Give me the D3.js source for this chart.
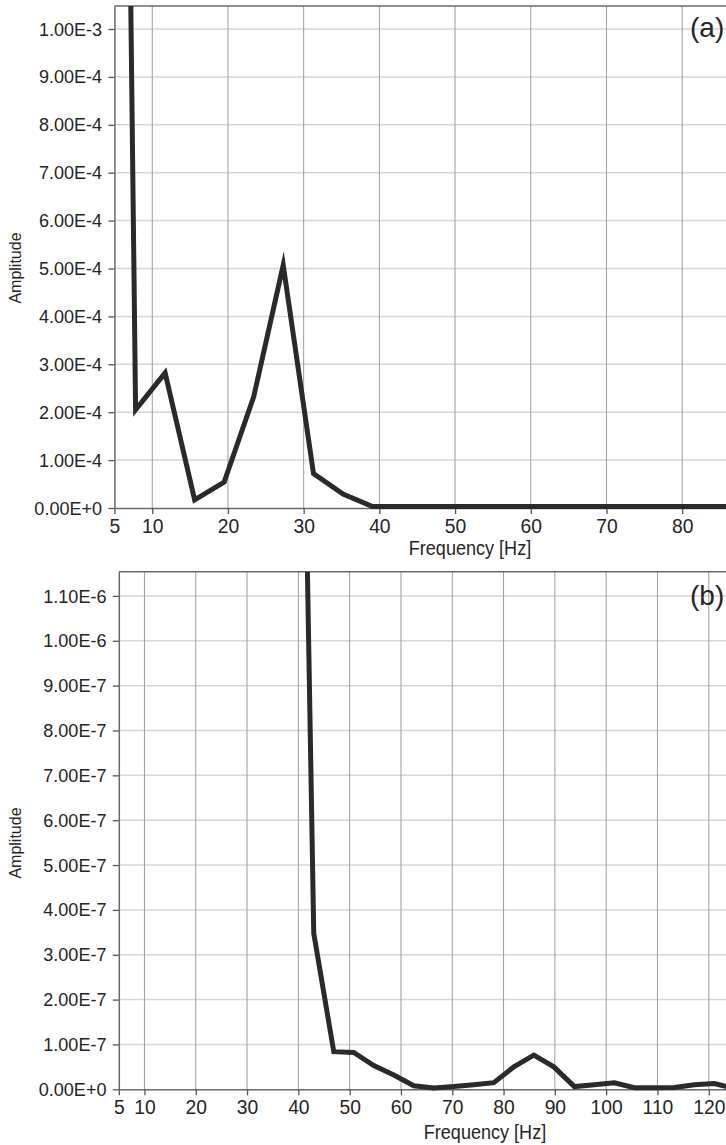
<!DOCTYPE html>
<html>
<head>
<meta charset="utf-8">
<script src="https://cdn.jsdelivr.net/npm/d3@7"></script>
<style>
body{margin:0;background:#fff}
svg{display:block}
text{font-family:"Liberation Sans",Arial,sans-serif;fill:#252525}
</style>
</head>
<body>
<svg id="chart" width="726" height="1145"></svg>
<script>

// (a) low band spectrum
var freq_a = [3.9, 7.8, 11.7, 15.6, 19.5, 23.4, 27.3, 31.3, 35.2, 39.1, 43.0, 46.9, 50.8, 54.7, 58.6, 62.5, 66.4, 70.3, 74.2, 78.1, 82.0, 85.9, 89.8, 93.8, 97.7, 101.6]
var amp_a  = [5.4e-3, 2.05e-4, 2.82e-4, 1.7e-5, 5.4e-5, 2.32e-4, 5.07e-4, 7.2e-5, 2.9e-5, 3e-6, 3e-6, 3e-6, 3e-6, 3e-6, 3e-6, 3e-6, 3e-6, 3e-6, 3e-6, 3e-6, 3e-6, 3e-6, 3e-6, 3e-6, 3e-6, 3e-6]
var yticks_a = [0, 1e-4, 2e-4, 3e-4, 4e-4, 5e-4, 6e-4, 7e-4, 8e-4, 9e-4, 1e-3]
var xticks_a = [5, 10, 20, 30, 40, 50, 60, 70, 80]

// (b) high band spectrum
var freq_b = [39.1, 43.0, 46.9, 50.8, 54.7, 58.6, 62.5, 66.4, 70.3, 74.2, 78.1, 82.0, 85.9, 89.8, 93.8, 97.7, 101.6, 105.5, 109.4, 113.3, 117.2, 121.1, 125.0, 128.9]
var amp_b  = [2.9e-6, 3.48e-7, 8.4e-8, 8.2e-8, 5.3e-8, 3.2e-8, 8e-9, 3e-9, 6e-9, 1e-8, 1.47e-8, 5.0e-8, 7.6e-8, 5.0e-8, 6e-9, 1.0e-8, 1.47e-8, 3.6e-9, 3.6e-9, 4e-9, 1.0e-8, 1.3e-8, 2e-9, 2e-9]
var yticks_b = [0, 1e-7, 2e-7, 3e-7, 4e-7, 5e-7, 6e-7, 7e-7, 8e-7, 9e-7, 1e-6, 1.1e-6]
var xticks_b = [5, 10, 20, 30, 40, 50, 60, 70, 80, 90, 100, 110, 120]

var svg = d3.select("#chart")
var W = 726

function sci_format(v){
  return v.toExponential(2).toUpperCase()
}

function draw_panel(prefix, freqs, amps, xticks, yticks, box, tag){

  var x = d3.scaleLinear().domain([5, box.xmax]).range([box.left, box.right])
  var y = d3.scaleLinear().domain([0, box.ymax]).range([box.bottom, box.top])

  var g = svg.append("g").attr("id", prefix)

  g.append("clipPath").attr("id", prefix + "-clip")
    .append("rect")
      .attr("x", box.left)
      .attr("y", box.top)
      .attr("width", W - box.left)
      .attr("height", box.bottom - box.top + 8)

  // grid
  g.append("g").selectAll("line").data(yticks.filter(function(v){ return v > 0 }))
    .enter().append("line")
      .attr("x1", box.left).attr("x2", W)
      .attr("y1", function(v){ return y(v) }).attr("y2", function(v){ return y(v) })
      .attr("stroke", "#d6d6d6").attr("stroke-width", 1.5)

  g.append("g").selectAll("line").data(xticks.filter(function(v){ return v > 5 }))
    .enter().append("line")
      .attr("x1", function(v){ return x(v) }).attr("x2", function(v){ return x(v) })
      .attr("y1", box.top).attr("y2", box.bottom)
      .attr("stroke", "#9c9c9c").attr("stroke-width", 1)

  g.append("line")
    .attr("x1", box.left).attr("x2", W)
    .attr("y1", box.top).attr("y2", box.top)
    .attr("stroke", "#6a6a6a").attr("stroke-width", 1.5)

  // axes
  var yaxis = g.append("g")
    .attr("transform", "translate(" + box.left + ",0)")
    .call(d3.axisLeft(y).tickValues(yticks).tickFormat(sci_format).tickSize(6).tickSizeOuter(0).tickPadding(7))
  yaxis.select(".domain").attr("stroke", "#6a6a6a").attr("stroke-width", 1.5)
  yaxis.selectAll(".tick line").attr("stroke", "#555").attr("stroke-width", 1.3)
  yaxis.selectAll("text")
    .attr("font-size", 19).attr("fill", "#252525")
    .attr("font-family", '"Liberation Sans",Arial,sans-serif')
    .attr("transform", "scale(0.95,1)")

  var xaxis = g.append("g")
    .attr("transform", "translate(0," + box.bottom + ")")
    .call(d3.axisBottom(x).tickValues(xticks).tickFormat(d3.format("d")).tickSize(6).tickSizeOuter(0).tickPadding(4))
  xaxis.select(".domain").attr("stroke", "#6a6a6a").attr("stroke-width", 1.5)
  xaxis.selectAll(".tick line").attr("stroke", "#555").attr("stroke-width", 1.3)
  xaxis.selectAll("text")
    .attr("font-size", 21).attr("fill", "#252525")
    .attr("font-family", '"Liberation Sans",Arial,sans-serif')
    .attr("transform", "scale(0.92,1)")

  // spectrum line
  var line = d3.line()
    .x(function(d){ return x(d[0]) })
    .y(function(d){ return y(d[1]) })

  g.append("path")
    .datum(d3.zip(freqs, amps))
    .attr("clip-path", "url(#" + prefix + "-clip)")
    .attr("fill", "none")
    .attr("stroke", "#2a2a2a")
    .attr("stroke-width", 5)
    .attr("stroke-linejoin", "miter")
    .attr("stroke-miterlimit", 6)
    .attr("d", line)

  // labels
  g.append("text")
    .attr("transform", "translate(" + box.title_x + "," + box.title_y + ") scale(0.86,1)")
    .attr("text-anchor", "middle")
    .attr("font-size", 21)
    .text("Frequency [Hz]")

  g.append("text")
    .attr("transform", "translate(21," + box.amp_y + ") rotate(-90)")
    .attr("text-anchor", "middle")
    .attr("font-size", 16)
    .text("Amplitude")

  g.append("text")
    .attr("x", 690)
    .attr("y", box.tag_y)
    .attr("font-size", 28)
    .text(tag)
}

draw_panel("pa", freq_a, amp_a, xticks_a, yticks_a,
  {left: 114.4, right: 826, top: 6, bottom: 508, xmax: 99, ymax: 1.048e-3,
   title_x: 470, title_y: 555, amp_y: 268, tag_y: 37}, "(a)")

draw_panel("pb", freq_b, amp_b, xticks_b, yticks_b,
  {left: 118.8, right: 852.4, top: 571.7, bottom: 1089.3, xmax: 148, ymax: 1.154e-6,
   title_x: 485, title_y: 1139, amp_y: 843, tag_y: 605}, "(b)")

</script>
</body>
</html>
